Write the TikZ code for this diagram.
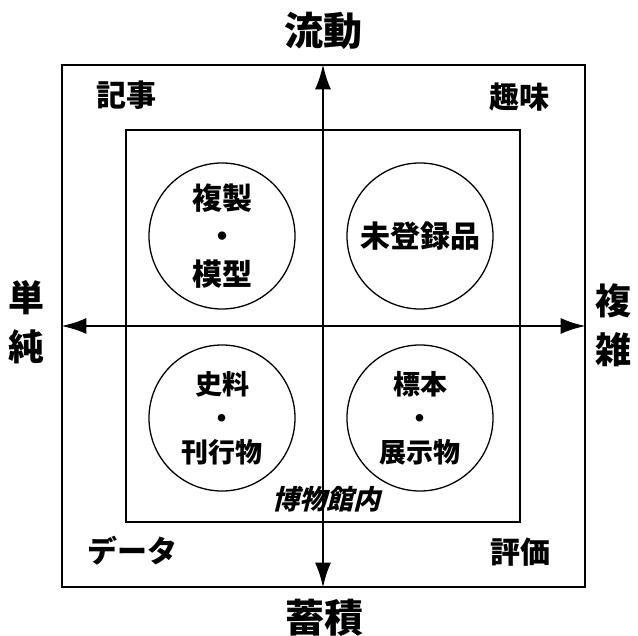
\documentclass[tikz,border=0pt]{standalone}
\usepackage{fontspec}
\newfontfamily\jp{Noto Sans CJK JP}
\newfontfamily\jpsl[FakeSlant=0.25]{Noto Sans CJK JP}
\usetikzlibrary{arrows.meta}
\begin{document}
\begin{tikzpicture}[x=1pt,y=-1pt,
  big/.style={font=\jp\bfseries\fontsize{39}{39}\selectfont, inner sep=0pt},
  side/.style={align=center, font=\jp\bfseries\fontsize{36}{49}\selectfont, inner sep=0pt},
  corner/.style={font=\jp\bfseries\fontsize{30}{30}\selectfont, inner sep=0pt},
  circ/.style={draw, circle, line width=1.3pt, minimum size=146pt, inner sep=0pt, align=center, font=\jp\bfseries\fontsize{30}{38}\selectfont},
  circs/.style={circ, font=\jp\bfseries\fontsize{27}{34}\selectfont},
  tip/.tip={Latex[length=25pt,width=16pt]},
  axis/.style={line width=2.4pt, tip-tip},
  ]
\useasboundingbox (0,0) rectangle (638,636);
\node[draw, line width=1.3pt, minimum width=523pt, minimum height=522pt, inner sep=0pt] (outer) at (323.5,326) {};
\node[draw, line width=2.2pt, minimum width=394pt, minimum height=392pt, inner sep=0pt] (inner) at (323,326) {};
\coordinate (c) at (323,326);
\draw[axis] (outer.south -| c) -- (outer.north -| c);
\draw[axis] (outer.west |- c) -- (outer.east |- c);
\node[big] (top) at (323,31) {流動};
\node[big] (bot) at (324,618) {蓄積};
\node[side] (left) at (27,322) {単\\純};
\node[side] (right) at (613,325) {複\\雑};
\node[corner] (k1) at (126,95) {記事};
\node[corner] (k2) at (519,97) {趣味};
\node[corner] (k3) at (132,551) {データ};
\node[corner] (k4) at (520,552) {評価};
\node[circ] (c1) at (222,236) {複製\\・\\模型};
\node[circ] (c2) at (420,236) {未登録品};
\node[circs] (c3) at (222,418) {史料\\・\\刊行物};
\node[circs] (c4) at (420,418) {標本\\・\\展示物};
\node[font=\jpsl\bfseries\fontsize{27}{27}\selectfont, inner sep=0pt] (mus) at (326,499) {博物館内};
\end{tikzpicture}
\end{document}
